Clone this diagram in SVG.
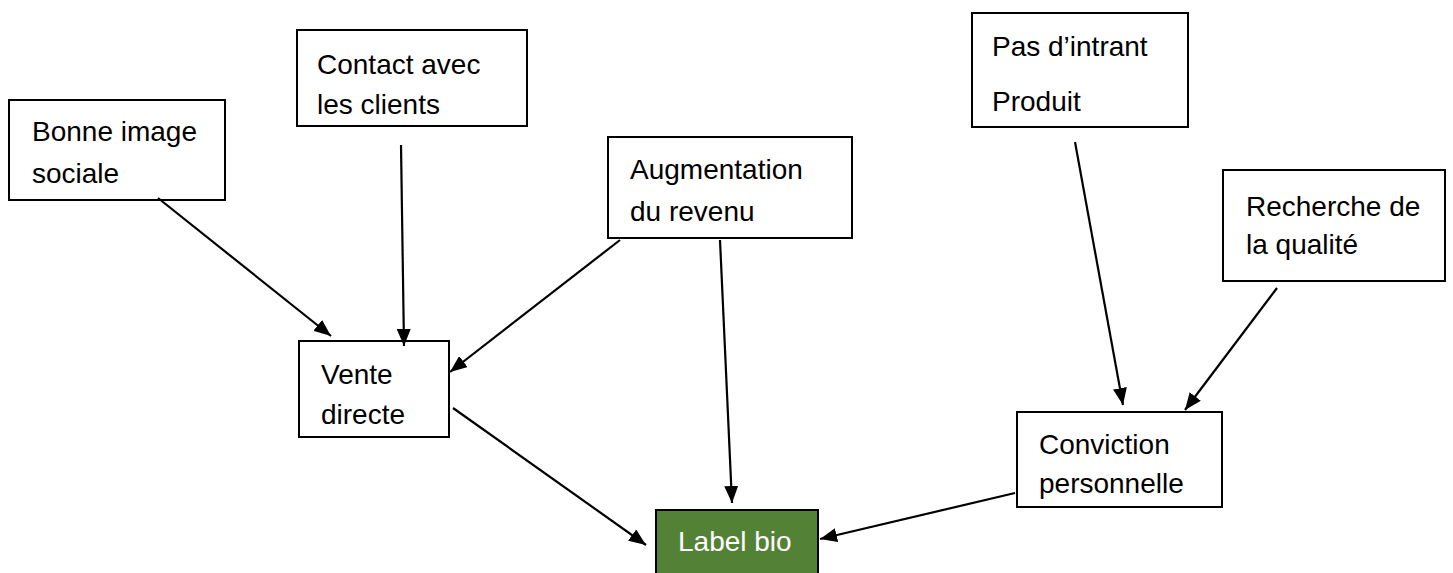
<svg xmlns="http://www.w3.org/2000/svg" width="1453" height="573" viewBox="0 0 1453 573">
<style>
.box{fill:#fff;stroke:#000;stroke-width:2}
.t{font-family:"Liberation Sans",Arial,sans-serif;font-size:28px;fill:#000}
.conn line{stroke:#000;stroke-width:2.2}
</style>
<defs>
<marker id="ah" viewBox="0 0 17 14" refX="17" refY="7" markerWidth="17" markerHeight="14" markerUnits="userSpaceOnUse" orient="auto">
<path d="M0,0 L17,7 L0,14 z" fill="#000"/>
</marker>
</defs>
<rect width="1453" height="573" fill="#fff"/>
<g id="bonne-image">
<rect class="box" x="9" y="100" width="216" height="100"/>
<text class="t" x="32" y="141">Bonne image</text>
<text class="t" x="32" y="183">sociale</text>
</g>
<g id="contact">
<rect class="box" x="297" y="30" width="230" height="96"/>
<text class="t" x="317" y="74">Contact avec</text>
<text class="t" x="317" y="114">les clients</text>
</g>
<g id="augmentation">
<rect class="box" x="608" y="137" width="244" height="101"/>
<text class="t" x="630" y="179">Augmentation</text>
<text class="t" x="630" y="221">du revenu</text>
</g>
<g id="pas-intrant">
<rect class="box" x="972" y="13" width="216" height="114"/>
<text class="t" x="992" y="56">Pas d’intrant</text>
<text class="t" x="992" y="111">Produit</text>
</g>
<g id="recherche">
<rect class="box" x="1223" y="170" width="222" height="111"/>
<text class="t" x="1246" y="216">Recherche de</text>
<text class="t" x="1246" y="254">la qualité</text>
</g>
<g id="vente">
<rect class="box" x="299" y="341" width="150" height="96"/>
<text class="t" x="321" y="384">Vente</text>
<text class="t" x="321" y="424">directe</text>
</g>
<g id="conviction">
<rect class="box" x="1017" y="412" width="205" height="95"/>
<text class="t" x="1039" y="454">Conviction</text>
<text class="t" x="1039" y="493">personnelle</text>
</g>
<g id="label-bio">
<rect x="656" y="510" width="162" height="70" fill="#538135" stroke="#000" stroke-width="2"/>
<text class="t" x="678" y="551" style="fill:#fff">Label bio</text>
</g>
<g class="conn">
<line x1="158" y1="198" x2="331" y2="336" marker-end="url(#ah)"/>
<line x1="401" y1="145" x2="404" y2="346" marker-end="url(#ah)"/>
<line x1="620" y1="240" x2="450" y2="372" marker-end="url(#ah)"/>
<line x1="720" y1="240" x2="732" y2="503" marker-end="url(#ah)"/>
<line x1="453" y1="408" x2="646" y2="545" marker-end="url(#ah)"/>
<line x1="1075" y1="142" x2="1123" y2="405" marker-end="url(#ah)"/>
<line x1="1277" y1="288" x2="1185" y2="410" marker-end="url(#ah)"/>
<line x1="1015" y1="493" x2="820" y2="539" marker-end="url(#ah)"/>
</g>
</svg>
